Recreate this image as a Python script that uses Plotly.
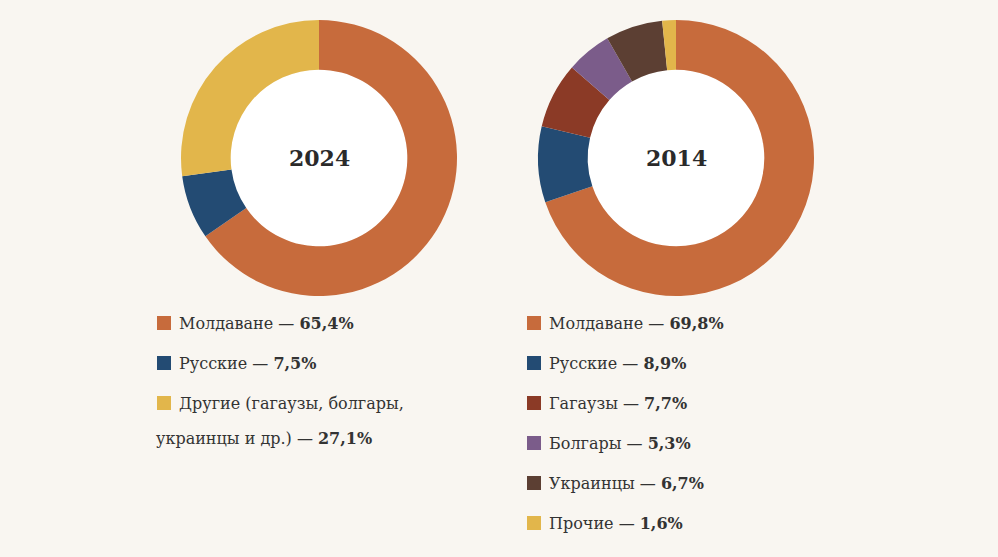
import plotly.graph_objects as go

# data
labels_2024 = ["Молдаване", "Русские", "Другие (гагаузы, болгары,<br>украинцы и др.)"]
values_2024 = [65.4, 7.5, 27.1]
colors_2024 = ["#C76B3C", "#234B73", "#E2B64B"]

labels_2014 = ["Молдаване", "Русские", "Гагаузы", "Болгары", "Украинцы", "Прочие"]
values_2014 = [69.8, 8.9, 7.7, 5.3, 6.7, 1.6]
colors_2014 = ["#C76B3C", "#234B73", "#8B3A26", "#7B5C8A", "#5C3F33", "#E2B64B"]

W, H = 998, 557
BG = "#F9F6F1"
FONT = "Georgia, 'DejaVu Serif', serif"
TXT = "#333333"

fig = go.Figure()

pies = [
    (labels_2024, values_2024, colors_2024, 319, "2024"),
    (labels_2014, values_2014, colors_2014, 676, "2014"),
]
cy, r = 158, 138
hole = 0.64

for labels, values, colors, cx, year in pies:
    dom_x = [(cx - r) / W, (cx + r) / W]
    dom_y = [(H - cy - r) / H, (H - cy + r) / H]
    # white disc in the hole
    fig.add_shape(type="circle", xref="paper", yref="paper", layer="below",
                  x0=(cx - r * hole) / W, x1=(cx + r * hole) / W,
                  y0=(H - cy - r * hole) / H, y1=(H - cy + r * hole) / H,
                  fillcolor="white", line_width=0)
    fig.add_trace(go.Pie(
        labels=labels, values=values, hole=hole, sort=False,
        direction="clockwise", rotation=0,
        marker=dict(colors=colors, line=dict(width=0)),
        textinfo="none", showlegend=False,
        domain=dict(x=dom_x, y=dom_y),
    ))
    fig.add_annotation(x=cx / W, y=(H - cy) / H, xref="paper", yref="paper",
                       xanchor="center", yanchor="middle",
                       text="<b>" + year + "</b>", showarrow=False,
                       font=dict(family=FONT, size=22, color="#2A2A2A"))

# legends
def fmt(v):
    return f"{v:.1f}".replace(".", ",") + "%"

legends = [
    (labels_2024, values_2024, colors_2024, 157),
    (labels_2014, values_2014, colors_2014, 527),
]
row0, gap = 323, 40
fs = 16
pad = 3  # annotation inner padding
for labels, values, colors, lx in legends:
    for i, (lab, val, col) in enumerate(zip(labels, values, colors)):
        y = row0 + i * gap
        fig.add_shape(type="rect", xref="paper", yref="paper",
                      x0=lx / W, x1=(lx + 14) / W,
                      y0=(H - y - 7) / H, y1=(H - y + 7) / H,
                      fillcolor=col, line_width=0)
        if "<br>" in lab:
            first, second = lab.split("<br>")
            fig.add_annotation(x=(lx + 23 - pad) / W, y=(H - y) / H, xref="paper", yref="paper",
                               xanchor="left", yanchor="middle", showarrow=False,
                               text=first, font=dict(family=FONT, size=fs, color=TXT))
            fig.add_annotation(x=(lx - pad) / W, y=(H - y - 35) / H, xref="paper", yref="paper",
                               xanchor="left", yanchor="middle", showarrow=False,
                               text=second + " — <b>" + fmt(val) + "</b>",
                               font=dict(family=FONT, size=fs, color=TXT))
        else:
            fig.add_annotation(x=(lx + 23 - pad) / W, y=(H - y) / H, xref="paper", yref="paper",
                               xanchor="left", yanchor="middle", showarrow=False,
                               text=lab + " — <b>" + fmt(val) + "</b>",
                               font=dict(family=FONT, size=fs, color=TXT))

fig.update_layout(
    width=W, height=H,
    margin=dict(l=0, r=0, t=0, b=0),
    paper_bgcolor=BG, plot_bgcolor=BG,
    font=dict(family=FONT, color=TXT),
)

fig.write_html("out.html", config={"displayModeBar": False},
               post_script="document.body.style.margin='0';document.body.style.background='%s';" % BG)
